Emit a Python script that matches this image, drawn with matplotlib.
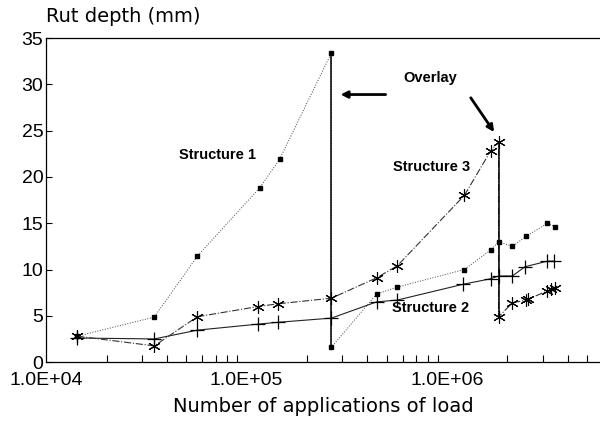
import matplotlib
matplotlib.use("Agg")
import matplotlib.pyplot as plt
from matplotlib.ticker import FixedLocator, LogLocator, NullFormatter

plt.rcParams['font.family'] = ['Liberation Sans', 'DejaVu Sans']

# Structure 1 (small dots) - drops at the first overlay
s1_x = [1.43e4, 3.46e4, 5.68e4, 1.16e5, 1.46e5, 2.65e5,
        2.65e5, 4.45e5, 5.65e5, 1.22e6, 1.65e6, 1.81e6, 2.12e6, 2.49e6, 3.17e6, 3.47e6]
s1_y = [2.8, 4.86, 11.45, 18.8, 21.9, 33.4,
        1.6, 7.35, 8.1, 10.0, 12.1, 13.0, 12.5, 13.6, 15.0, 14.6]

# Structure 2 (plus)
s2_x = [1.43e4, 3.46e4, 5.68e4, 1.14e5, 1.44e5, 2.65e5, 4.45e5, 5.65e5,
        1.20e6, 1.65e6, 1.81e6, 2.12e6, 2.45e6, 3.17e6, 3.42e6]
s2_y = [2.6, 2.5, 3.45, 4.1, 4.3, 4.75, 6.5, 6.7,
        8.4, 9.0, 9.3, 9.3, 10.3, 10.9, 10.9]

# Structure 3 (stars) - drops at the second overlay
s3_x = [1.43e4, 3.46e4, 5.68e4, 1.14e5, 1.44e5, 2.65e5, 4.45e5, 5.65e5,
        1.22e6, 1.65e6, 1.81e6,
        1.81e6, 2.12e6, 2.49e6, 2.55e6, 3.17e6, 3.32e6, 3.47e6]
s3_y = [2.8, 1.75, 4.9, 6.0, 6.3, 6.9, 9.1, 10.4,
        18.0, 22.8, 23.8,
        4.9, 6.4, 6.7, 6.8, 7.7, 7.9, 8.0]

overlay_x = [2.65e5, 1.81e6]
overlay_top = [33.4, 23.8]
overlay_bottom = [1.6, 4.9]

y_ticks = [0, 5, 10, 15, 20, 25, 30, 35]
x_ticks = [1e4, 1e5, 1e6]
x_ticklabels = ["1.0E+04", "1.0E+05", "1.0E+06"]

fig = plt.figure(figsize=(6, 4.23), dpi=100)
ax = fig.add_axes([0.077, 0.144, 0.923, 0.766])

ax.plot(s1_x, s1_y, color='#444444', lw=0.7, ls=':', marker='s', ms=2.2,
        mfc='black', mec='black')
ax.plot(s2_x, s2_y, color='#222222', lw=0.8, ls='-', marker='+', ms=10,
        mew=0.9, mec='black')
ax.plot(s3_x, s3_y, color='#333333', lw=0.8, ls='-.', marker=(6, 2, 0), ms=9,
        mew=0.8, mec='black')
ax.vlines(overlay_x, overlay_bottom, overlay_top, color='black', lw=1.1)

ax.set_xscale('log')
ax.set_xlim(1e4, 5.8e6)
ax.set_ylim(0, 35)
ax.yaxis.set_major_locator(FixedLocator(y_ticks))
ax.set_xticks(x_ticks)
ax.set_xticklabels(x_ticklabels)
ax.xaxis.set_minor_locator(LogLocator(base=10, subs=range(2, 10)))
ax.xaxis.set_minor_formatter(NullFormatter())
ax.tick_params(axis='both', which='major', direction='in', length=4,
               labelsize=14, width=0.8)
ax.tick_params(axis='y', which='major', pad=2)
ax.tick_params(axis='x', which='major', length=0, pad=7)
ax.tick_params(axis='x', which='minor', direction='in', length=5, width=0.8)
ax.spines['right'].set_visible(False)
for side in ['left', 'top', 'bottom']:
    ax.spines[side].set_linewidth(0.9)

ax.set_xlabel("Number of applications of load", fontsize=14,
              family='DejaVu Sans', labelpad=6)
fig.text(0.077, 0.962, "Rut depth (mm)", fontsize=14, family='DejaVu Sans',
         ha='left', va='center')

ax.text(7.14e4, 22.35, "Structure 1", fontsize=10.5, fontweight='bold',
        ha='center', va='center')
ax.text(8.36e5, 21.05, "Structure 3", fontsize=10.5, fontweight='bold',
        ha='center', va='center')
ax.text(8.26e5, 5.83, "Structure 2", fontsize=10.5, fontweight='bold',
        ha='center', va='center')
ax.text(8.26e5, 30.67, "Overlay", fontsize=10.5, fontweight='bold',
        ha='center', va='center')

ax.annotate("", xy=(2.85e5, 28.9), xytext=(5.1e5, 28.9),
            arrowprops=dict(arrowstyle='-|>', color='black', lw=2,
                            mutation_scale=10))
ax.annotate("", xy=(1.75e6, 24.6), xytext=(1.29e6, 28.8),
            arrowprops=dict(arrowstyle='-|>', color='black', lw=2,
                            mutation_scale=10))

fig.savefig("out.png", dpi=100)
